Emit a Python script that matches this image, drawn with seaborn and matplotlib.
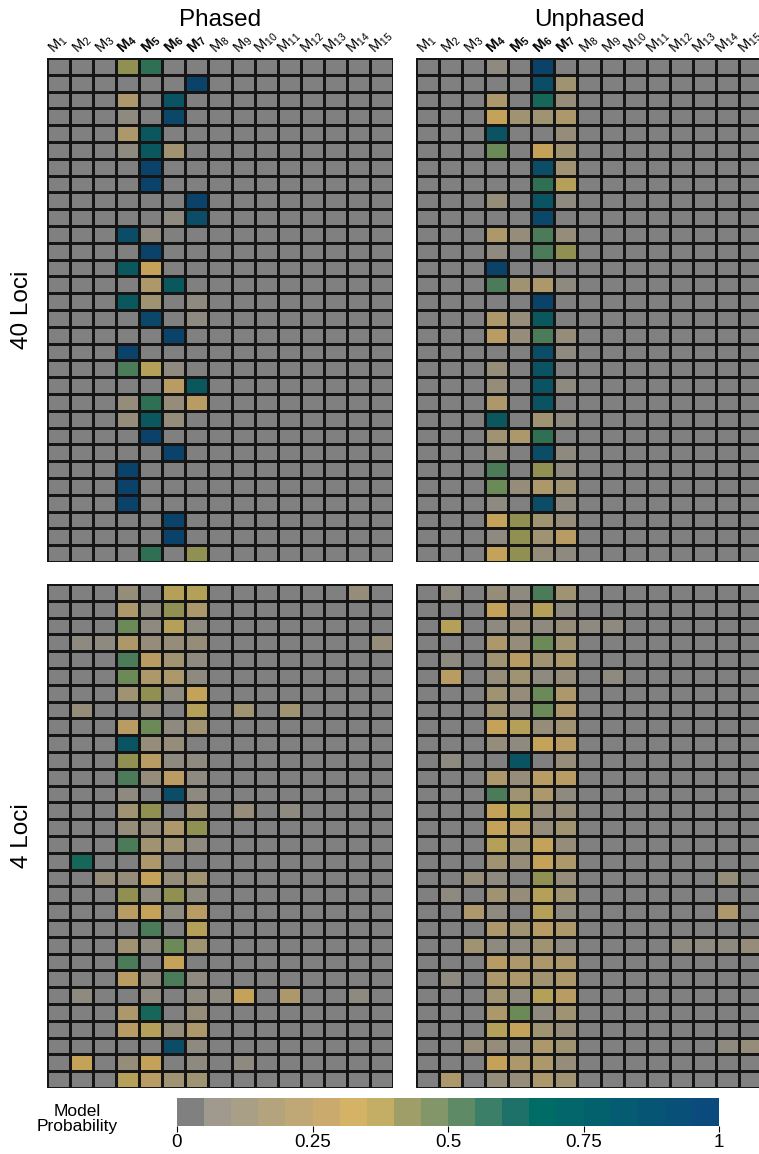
import numpy as np
import pandas as pd
import matplotlib
matplotlib.use("Agg")
import matplotlib.pyplot as plt
import seaborn as sns
from matplotlib.colors import ListedColormap, Normalize
from matplotlib.cm import ScalarMappable

# ---- data: per row, (model number, probability) for the non-zero cells ----
models = list(range(1, 16))
bold_models = [4, 5, 6, 7]
col_titles = ["Phased", "Unphased"]
row_titles = ["40 Loci", "4 Loci"]

phased_40 = [
    [(4, .42), (5, .57)],
    [(7, .92)],
    [(4, .22), (6, .77)],
    [(4, .07), (6, .87)],
    [(4, .22), (5, .72)],
    [(4, .07), (5, .72), (6, .17)],
    [(5, .92)],
    [(5, .92)],
    [(7, .92)],
    [(6, .07), (7, .82)],
    [(4, .82), (5, .07)],
    [(5, .92)],
    [(4, .72), (5, .32)],
    [(5, .22), (6, .72)],
    [(4, .72), (5, .17), (7, .07)],
    [(5, .87), (7, .07)],
    [(6, .92)],
    [(4, .92)],
    [(4, .52), (5, .37), (6, .07)],
    [(6, .27), (7, .72)],
    [(4, .12), (5, .57), (6, .12), (7, .27)],
    [(4, .12), (5, .72), (6, .12)],
    [(5, .92)],
    [(6, .92)],
    [(4, .92)],
    [(4, .92)],
    [(4, .92)],
    [(6, .92)],
    [(6, .92)],
    [(5, .57), (7, .42)],
]

unphased_40 = [
    [(4, .07), (6, .92)],
    [(6, .82), (7, .17)],
    [(4, .22), (6, .62), (7, .12)],
    [(4, .32), (5, .17), (6, .17), (7, .22)],
    [(4, .77), (7, .12)],
    [(4, .47), (6, .32), (7, .17)],
    [(6, .82), (7, .17)],
    [(6, .57), (7, .37)],
    [(4, .12), (6, .77), (7, .07)],
    [(6, .87)],
    [(4, .22), (5, .12), (6, .52), (7, .12)],
    [(4, .07), (6, .52), (7, .42)],
    [(4, .92)],
    [(4, .52), (5, .17), (6, .22), (7, .07)],
    [(6, .92)],
    [(4, .22), (5, .12), (6, .72)],
    [(4, .27), (5, .12), (6, .52), (7, .12)],
    [(6, .82), (7, .07)],
    [(4, .12), (6, .77)],
    [(4, .12), (6, .77), (7, .07)],
    [(4, .22), (6, .77)],
    [(4, .72), (6, .17), (7, .07)],
    [(4, .17), (5, .22), (6, .57)],
    [(4, .07), (6, .82), (7, .07)],
    [(4, .52), (6, .42), (7, .07)],
    [(4, .47), (5, .12), (6, .22), (7, .17)],
    [(4, .07), (6, .82), (7, .07)],
    [(4, .32), (5, .42), (6, .17), (7, .12)],
    [(4, .07), (5, .42), (6, .17), (7, .27)],
    [(4, .32), (5, .42), (6, .12), (7, .07)],
]

phased_4 = [
    [(4, .12), (6, .37), (7, .37), (14, .12)],
    [(4, .22), (5, .07), (6, .42), (7, .22)],
    [(4, .47), (5, .07), (6, .37), (7, .07)],
    [(2, .07), (3, .07), (4, .22), (5, .12), (6, .12), (7, .12), (15, .12)],
    [(4, .52), (5, .27), (6, .17), (7, .07)],
    [(4, .47), (5, .22), (6, .22), (7, .07)],
    [(4, .17), (5, .42), (6, .07), (7, .32)],
    [(2, .12), (5, .07), (7, .37), (9, .17), (11, .17)],
    [(4, .27), (5, .47), (6, .07), (7, .17)],
    [(4, .77), (5, .12), (6, .12)],
    [(4, .42), (5, .27), (6, .07), (7, .07)],
    [(4, .52), (5, .12), (6, .27), (7, .07)],
    [(4, .07), (6, .82), (7, .07)],
    [(4, .17), (5, .42), (7, .17), (9, .12), (11, .07)],
    [(4, .12), (5, .12), (6, .22), (7, .42)],
    [(4, .52), (5, .17), (6, .17), (7, .07)],
    [(2, .62), (5, .22)],
    [(3, .12), (4, .12), (5, .32), (6, .12), (7, .17)],
    [(4, .42), (5, .07), (6, .42), (7, .07)],
    [(4, .27), (5, .32), (6, .07), (7, .27)],
    [(5, .52), (7, .37)],
    [(4, .17), (5, .07), (6, .47), (7, .17)],
    [(4, .52), (6, .32)],
    [(4, .27), (5, .07), (6, .52), (7, .07)],
    [(2, .07), (5, .07), (7, .07), (8, .07), (9, .32), (11, .22), (14, .07)],
    [(4, .22), (5, .62), (7, .12)],
    [(4, .27), (5, .37), (6, .12), (7, .22)],
    [(6, .82), (7, .07)],
    [(2, .32), (4, .12), (5, .32), (7, .07), (9, .07)],
    [(4, .37), (5, .27), (6, .17), (7, .17)],
]

unphased_4 = [
    [(2, .07), (4, .12), (5, .07), (6, .52), (7, .17)],
    [(4, .32), (5, .12), (6, .37), (7, .07)],
    [(2, .37), (4, .07), (5, .12), (6, .07), (7, .12), (8, .07), (9, .07)],
    [(4, .22), (5, .12), (6, .47), (7, .17)],
    [(2, .07), (4, .17), (5, .27), (6, .17), (7, .22)],
    [(2, .27), (4, .12), (5, .17), (6, .07), (7, .12), (9, .07)],
    [(4, .17), (5, .12), (6, .47), (7, .22)],
    [(4, .17), (5, .07), (6, .47), (7, .22)],
    [(4, .32), (5, .37), (6, .12), (7, .17)],
    [(4, .12), (5, .07), (6, .32), (7, .27)],
    [(2, .07), (5, .77), (7, .12)],
    [(4, .22), (5, .12), (6, .27), (7, .27)],
    [(4, .52), (5, .17), (6, .22), (7, .07)],
    [(4, .32), (5, .37), (6, .12), (7, .12)],
    [(4, .32), (5, .27), (6, .12), (7, .17)],
    [(4, .37), (5, .17), (6, .32), (7, .12)],
    [(4, .17), (5, .12), (6, .32), (7, .22)],
    [(3, .12), (4, .07), (6, .42), (7, .12), (14, .12)],
    [(2, .07), (4, .17), (5, .12), (6, .37), (7, .17)],
    [(3, .22), (4, .07), (6, .37), (7, .07), (14, .22)],
    [(4, .22), (5, .17), (6, .27), (7, .22)],
    [(3, .17), (4, .07), (5, .07), (6, .17), (7, .07), (12, .07), (13, .07), (14, .07), (15, .12)],
    [(4, .27), (5, .22), (6, .22), (7, .22)],
    [(2, .07), (4, .22), (5, .22), (6, .17), (7, .22)],
    [(4, .17), (5, .07), (6, .37), (7, .27)],
    [(4, .22), (5, .47), (6, .07), (7, .17)],
    [(4, .37), (5, .32), (6, .17), (7, .12)],
    [(3, .12), (4, .12), (5, .07), (6, .22), (7, .17), (14, .07), (15, .12)],
    [(4, .32), (5, .22), (6, .22), (7, .12)],
    [(2, .22), (4, .12), (5, .12), (6, .22), (7, .17)],
]

cbar_ticks = [0, 0.25, 0.5, 0.75, 1]
cbar_ticklabels = ["0", "0.25", "0.5", "0.75", "1"]

# 20 bins, grey -> tan -> gold -> green -> teal -> blue
cbar_colors = ["#808080", "#a0998d", "#a99e86", "#b4a47e", "#c0a876",
               "#cbab6d", "#d4b266", "#c4ae66", "#a09e68", "#83966a",
               "#5e8b66", "#3c7f68", "#1d7168", "#006c66", "#02666a",
               "#03616d", "#055b71", "#065574", "#085078", "#0a4a7c"]
cell_colors = ["#808080", "#8e8a80", "#958c7a", "#a09372", "#ad986c",
               "#b99c63", "#c4a25a", "#b4a058", "#8f9052", "#6b8a58",
               "#4b7b58", "#2f7055", "#16665a", "#0a5e5a", "#0a585e",
               "#0a5362", "#0b4d66", "#0b4768", "#0b426a", "#0b3d6b"]


def to_frame(rows):
    mat = np.zeros((len(rows), len(models)))
    for i, row in enumerate(rows):
        for m, p in row:
            mat[i, m - 1] = p
    return pd.DataFrame(mat, columns=models)


sns.set_theme(style="white")
plt.rcParams["font.family"] = ["Liberation Sans", "DejaVu Sans"]
plt.rcParams["mathtext.fontset"] = "custom"
plt.rcParams["mathtext.rm"] = "Liberation Sans"
plt.rcParams["mathtext.it"] = "Liberation Sans"
plt.rcParams["mathtext.bf"] = "Liberation Sans:bold"
plt.rcParams["text.color"] = "black"
plt.rcParams["xtick.color"] = "black"
plt.rcParams["xtick.labelcolor"] = "black"

W, H = 759, 1154
fig = plt.figure(figsize=(W / 100, H / 100), dpi=100)


def px_axes(x0, y0, w, h):
    return fig.add_axes([x0 / W, 1 - (y0 + h) / H, w / W, h / H])


xlabels = [r"$\mathbf{M_{%d}}$" % m if m in bold_models else r"$\mathrm{M}_{%d}$" % m
           for m in models]

panels = [[phased_40, unphased_40], [phased_4, unphased_4]]
panel_x = [47, 416]
panel_y = [58, 584]
pw, ph = 346, 504
cmap = ListedColormap(cell_colors)

for r, row in enumerate(panels):
    for c, data in enumerate(row):
        ax = px_axes(panel_x[c], panel_y[r], pw, ph)
        sns.heatmap(to_frame(data), ax=ax, cmap=cmap, vmin=0, vmax=1,
                    cbar=False, linewidths=1.0, linecolor="#151515",
                    xticklabels=xlabels if r == 0 else False,
                    yticklabels=False)
        if r == 0:
            ax.xaxis.tick_top()
            ax.tick_params(axis="x", length=0, pad=1, labelcolor="black")
            ax.set_xticklabels(xlabels, rotation=45, ha="center",
                               va="bottom", fontsize=10.5, color="black")
        ax.set_xlabel("")
        ax.set_ylabel("")

for c, title in enumerate(col_titles):
    fig.text((panel_x[c] + pw / 2) / W, 1 - 20 / H, title,
             ha="center", va="center", fontsize=17.5, color="black")
for r, title in enumerate(row_titles):
    fig.text(22 / W, 1 - (panel_y[r] + ph / 2) / H, title,
             ha="center", va="center", rotation=90, fontsize=17.5,
             color="black")

# colour bar
cax = px_axes(177, 1098, 542, 28)
sm = ScalarMappable(norm=Normalize(0, 1), cmap=ListedColormap(cbar_colors))
cb = fig.colorbar(sm, cax=cax, orientation="horizontal")
cb.outline.set_visible(False)
cb.set_ticks(cbar_ticks)
cb.set_ticklabels(cbar_ticklabels)
cax.tick_params(axis="x", length=4, width=0.8, color="black",
                labelcolor="black", labelsize=13.5, pad=2, bottom=True)
fig.text(77 / W, 1 - 1119 / H, "Model\nProbability", ha="center",
         va="center", fontsize=12.5, linespacing=1.05, color="black")

fig.savefig("out.png", dpi=100)
